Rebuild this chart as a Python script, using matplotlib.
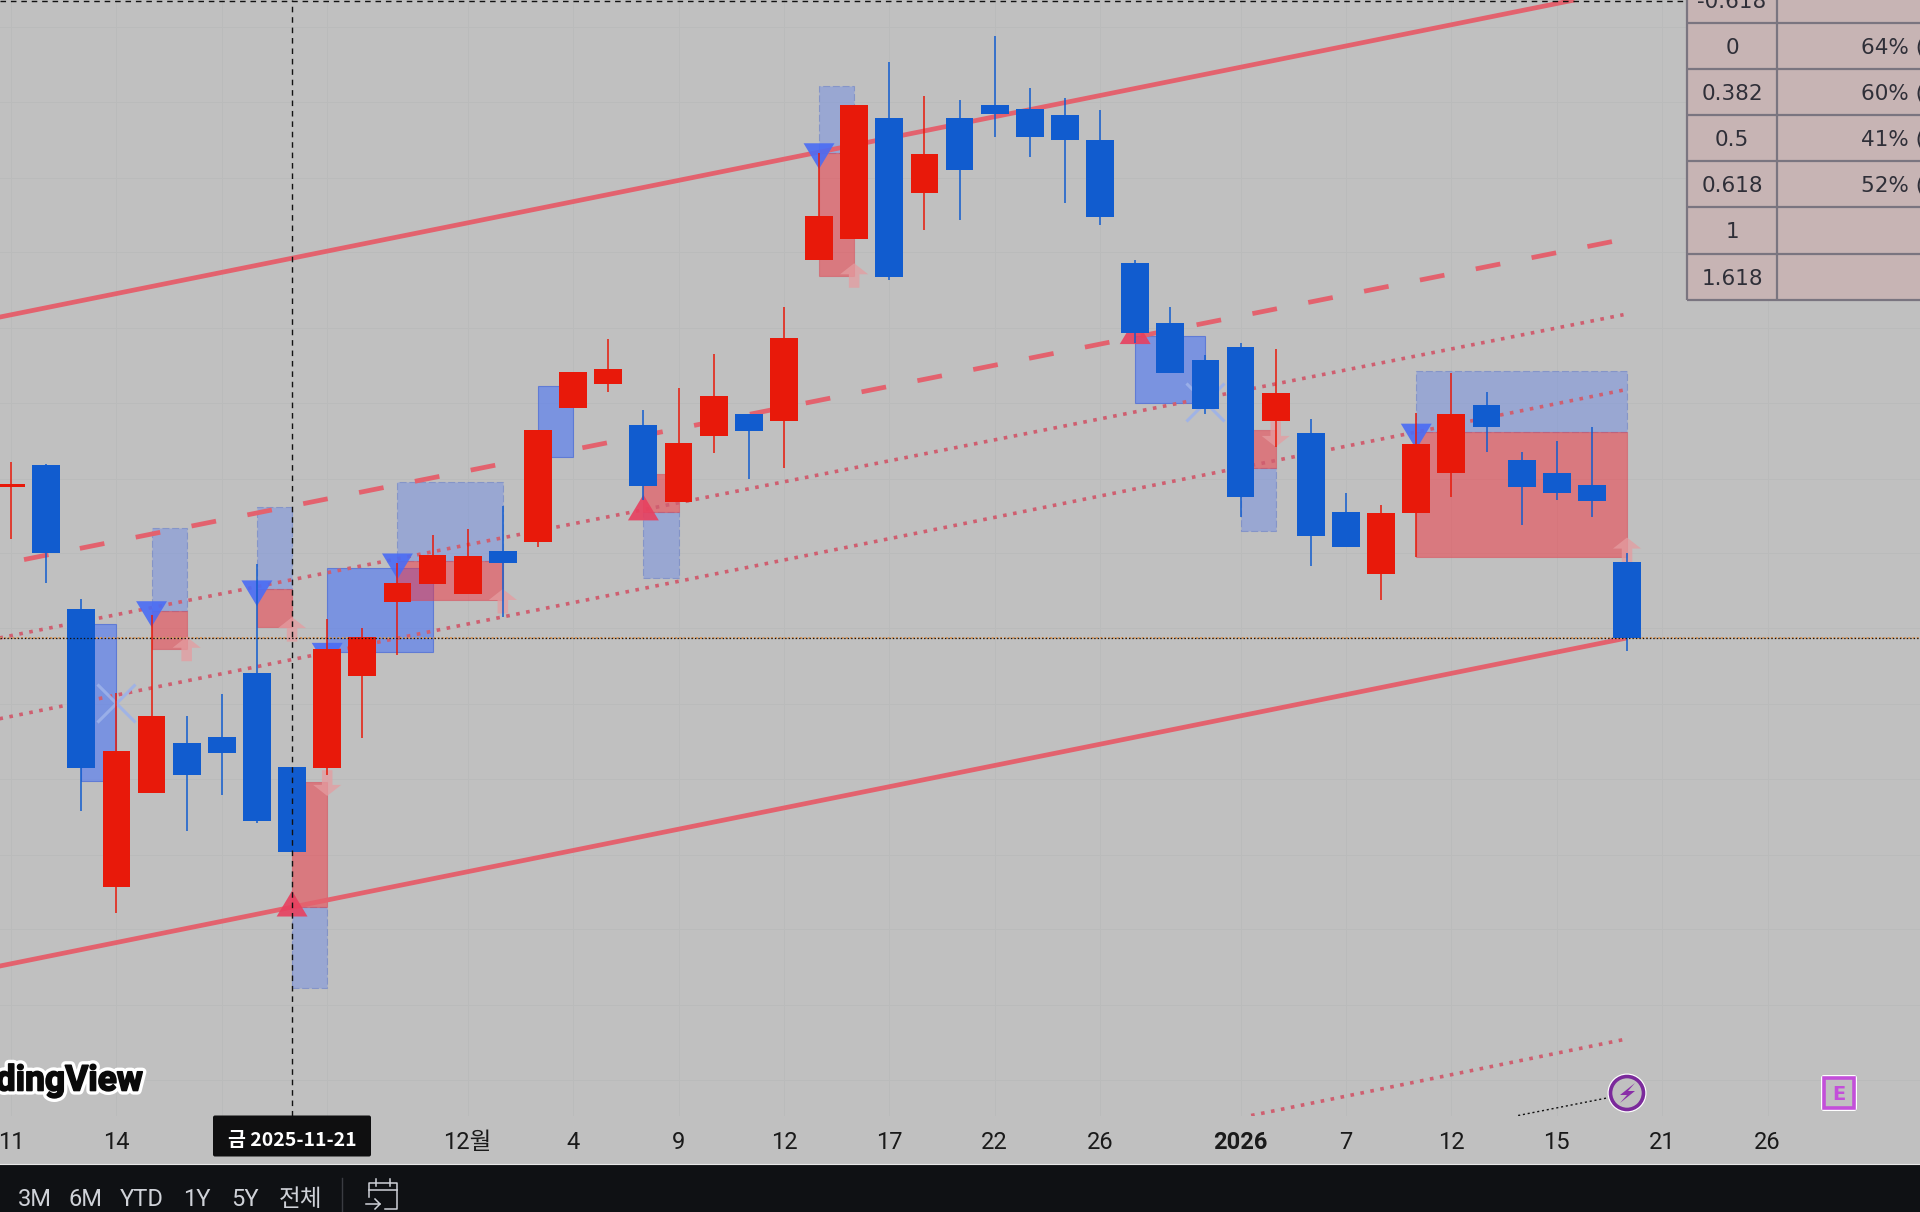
import matplotlib
matplotlib.use("Agg")
import matplotlib.pyplot as plt
from matplotlib import font_manager as fm
from matplotlib.patches import Rectangle, FancyBboxPatch, Circle, Polygon
import matplotlib.patheffects as pe

# ---------- data ----------
opens  = [602,620,503,275.4,352,393,398,450.3,374,373,448.3,508,523.2,515.3,550,557,667,686,653,590,644,662,656,788,805,904,842,904,914,911,906,886,785,736,706,716.6,656.2,646.4,582,531.2,581.3,614,669.5,624,613.5,603.7,541.3]
closes = [605,548,372.5,387,415.3,367.2,385,329.6,304.5,470,480,524,546.5,546,540,649,696,699,603,638,677,648,724,824,914,774,874,861,907,888,886,823,728,695,666,594.4,679,562.3,553,581,637.7,662.2,651,602,597.4,591,478.7]
highs  = [623,621,511,434,498,415,433,539,374,494.4,487,540,563.4,568,587,649,696,723,665,683,711,662,749,875,914,949,922,918,971,928,920,910,788,749,710,720,715,658,597.4,587.6,662.5,695,680,631,640,651.6,548]
lows   = [560,524,337.5,254,352,321.5,351,328,304.5,367,397,465,523,515,496.4,553,667,680,592,590,630,609,618,788,805,771,812,820,888,872,834,816,720,695,662,578,635,538,553,510,545.4,594.4,631,571,592,578,468]

tick_pos    = [0,3,6,9,13,16,19,22,25,28,31,35,38,41,44,47,50]
tick_labels = ['11','14','','','12월','4','9','12','17','22','26','2026','7','12','15','21','26']
grid_prices = [978,917,855,794,732,671,609,548,487,425,364,302,241,179,118]

# zones: left bar, right bar, top price, bottom price
red_left,  red_right  = [4,7,8,11,18,23,35,40],[5,8,9,14,19,24,36,46]
red_top               = [501.3,519,361,541.6,613,875,649,647]
red_bot               = [470,488,259.4,510.4,582,775,618,545]
pale_left, pale_right = [4,7,8,11,18,23,35,40],[5,8,9,14,19,24,36,46]
pale_top              = [568.7,586.2,259.4,606.3,582,930,618,697]
pale_bot              = [501.3,519,193,542,528,875,566,647]
mid_left,  mid_right  = [2,9,15,32],[3,12,16,34]
mid_top               = [490,536.3,685,726]
mid_bot               = [362,467.2,627,671]

down_tri_x = [4,7,9,11,23,40]
down_tri_y = [509,526,475,548,883,654]
up_tri_x   = [8,18,32]
up_tri_y   = [251.5,575,719]
up_arrow_x = [5,8,14,24,46]
up_arrow_y = [460,476,499,765,541]
dn_arrow_x = [9,36]
dn_arrow_y = [371,656]

chan_up_x,  chan_up_y  = [-0.33,44.5],[741,1000]
chan_lo_x,  chan_lo_y  = [-0.33,46],[211,479]
mid_x,      mid_y      = [0.37,45.8],[543,804]
dot1_x,     dot1_y     = [-0.33,45.9],[479,743]
dot2_x,     dot2_y     = [-0.33,46],[413,682]
dot3_x,     dot3_y     = [35.3,45.9],[89,151]
blk_x,      blk_y      = [42.9,45.55],[89,104]
last_price = 479

levels  = ['-0.618','0','0.382','0.5','0.618','1','1.618']
results = ['','64% (-','60% (-','41% (-','52% (-','','']
ranges  = ['3M','6M','YTD','1Y','5Y','전체']
range_x = [35,85,142,197,245,301]

# ---------- style ----------
plt.rcParams['lines.scale_dashes'] = False
BG, RED, BLUE, LINE = '#c0c0c0', '#e8190a', '#115ccf', '#e3626e'
avail = {f.name for f in fm.fontManager.ttflist}
NARROW = ['Liberation Sans Narrow'] if 'Liberation Sans Narrow' in avail else ['Roboto']
TICK = NARROW + ['Noto Sans CJK KR']

fig = plt.figure(figsize=(19.2, 12.12), dpi=100, facecolor=BG)
ax = fig.add_axes([0, 1 - 1115.5/1212, 1, 1115.5/1212], facecolor=BG)
ax.set_xlim(-9/28.69, (1568-9)/28.69)
ax.set_ylim(89, 1000)
for s in ax.spines.values():
    s.set_visible(False)
ax.set_xticks(tick_pos)
ax.set_xticklabels(tick_labels, family=TICK, fontsize=17, color='#1a1a1a')
ax.get_xticklabels()[tick_labels.index('2026')].set_fontweight('bold')
ax.set_yticks(grid_prices)
ax.set_yticklabels([])
ax.tick_params(length=0, pad=11)
ax.grid(True, color='#babbbb', lw=0.7, zorder=0)
ax.set_axisbelow(True)

def zones(l, r, t, b, color, alpha, **kw):
    ax.bar(l, [a-c for a, c in zip(t, b)], bottom=b, width=[y-x for x, y in zip(l, r)],
           align='edge', color=color, alpha=alpha, zorder=2, **kw)

zones(pale_left, pale_right, pale_top, pale_bot, '#7490e4', 0.5, edgecolor='#5f78c8', linestyle=(0, (5, 2)), linewidth=0.8)
zones(mid_left, mid_right, mid_top, mid_bot, '#5d80ee', 0.7, edgecolor='#4668d8', linewidth=0.8)
zones(red_left, red_right, red_top, red_bot, '#f2333f', 0.5, edgecolor='#d84c58', linewidth=0.8)

# trend lines
ax.plot(chan_up_x, chan_up_y, color=LINE, lw=3.4, zorder=3, solid_capstyle='butt')
ax.plot(chan_lo_x, chan_lo_y, color=LINE, lw=3.4, zorder=3, solid_capstyle='butt')
ax.plot(mid_x, mid_y, color=LINE, lw=3.4, zorder=3, linestyle=(0, (18, 23)), dash_capstyle='butt')
for xs, ys in ((dot1_x, dot1_y), (dot2_x, dot2_y), (dot3_x, dot3_y)):
    ax.plot(xs, ys, color='#cf5f70', lw=2.6, zorder=3, linestyle=(0, (2.6, 4.7)), dash_capstyle='butt')
ax.plot(blk_x, blk_y, color='#111111', lw=1.0, zorder=3, linestyle=(0, (1.5, 2)))
ax.axhline(last_price, color='#d99a60', lw=1.4, ls=(0, (1.5, 1.5)), zorder=3)
ax.axhline(last_price, color='#111111', lw=0.9, ls=(0, (1, 1.5)), zorder=7)

# signals
for x, y in zip(down_tri_x, down_tri_y):
    ax.fill([x-0.44, x+0.44, x], [y, y, y-21], color='#4a6cf5', alpha=0.9, linewidth=0, zorder=4)
for x, y in zip(up_tri_x, up_tri_y):
    ax.fill([x-0.44, x+0.44, x], [y, y, y+21], color='#e8405f', alpha=0.9, linewidth=0, zorder=4)
for x, y in zip(up_arrow_x, up_arrow_y):
    ax.arrow(x, y, 0, 20, width=0.3, head_width=0.8, head_length=9, length_includes_head=True,
             color='#e59ca0', alpha=0.75, linewidth=0, zorder=4)
for x, y in zip(dn_arrow_x, dn_arrow_y):
    ax.arrow(x, y, 0, -21, width=0.3, head_width=0.8, head_length=9, length_includes_head=True,
             color='#e59ca0', alpha=0.75, linewidth=0, zorder=4)
ax.scatter([3, 34], [426, 672], marker='x', s=750, color='#9db2ea', alpha=0.9, linewidths=2.2, zorder=4)

# candles
idx = list(range(len(opens)))
cols = [RED if c >= o else BLUE for o, c in zip(opens, closes)]
ax.vlines(idx, lows, highs, colors=cols, lw=1.1, zorder=5)
ax.bar(idx, [abs(c-o) for o, c in zip(opens, closes)],
       bottom=[min(o, c) for o, c in zip(opens, closes)],
       width=0.79, color=cols, linewidth=0, zorder=6)

# crosshair
ax.axvline(8, color='#111111', lw=1.0, ls=(0, (4, 3.5)), zorder=7)
ax.axhline(999, color='#111111', lw=1.0, ls=(0, (4, 3.5)), zorder=7)

# ---------- overlay in pixels: table, widgets, bottom bar ----------
ov = fig.add_axes([0, 0, 1, 1], facecolor='none')
ov.set_xlim(0, 1920)
ov.set_ylim(1212, 0)
ov.axis('off')

rows = [-23.5, 22.7, 69, 115, 161, 207, 253.7, 300]
tx = [1687, 1777, 1925]
ov.add_patch(Rectangle((tx[0], rows[0]), tx[2]-tx[0], rows[-1]-rows[0], fc='#c7b4b4', ec='none', zorder=8))
for y in rows:
    ov.plot(tx[::2], [y, y], color='#7a7580', lw=1.6, zorder=9, solid_capstyle='butt')
for x in tx[:2]:
    ov.plot([x, x], [rows[0], rows[-1]], color='#7a7580', lw=1.6, zorder=9, solid_capstyle='butt')
for k, (lv, res) in enumerate(zip(levels, results)):
    yc = (rows[k] + rows[k+1]) / 2 + 2
    ov.text((tx[0]+tx[1])/2, yc, lv, ha='center', va='center', fontsize=15.5, color='#2f2f38', family='DejaVu Sans', zorder=10)
    if res:
        ov.text(1861, yc, res, ha='left', va='center', fontsize=15.5, color='#2f2f38', family='DejaVu Sans', zorder=10)

# watermark
ov.text(143, 1081, 'TradingView', ha='right', va='center', fontsize=25.5, fontweight='bold', family='Roboto', color='#0a0a0a',
        zorder=8, path_effects=[pe.withStroke(linewidth=6, foreground='white'),
                                pe.withStroke(linewidth=1.2, foreground='#0a0a0a')])

# date label
ov.add_patch(FancyBboxPatch((213, 1115.5), 158, 41, boxstyle='round,pad=0,rounding_size=2', fc='#0f0f10', ec='none', zorder=8))
ov.text(292, 1140, '금 2025-11-21', ha='center', va='center', fontsize=14, fontweight='bold', color='white',
        family=['Noto Sans CJK KR', 'DejaVu Sans'], zorder=9)

# earnings / lightning icons
ov.add_patch(Circle((1627, 1093), 19.5, fc='white', ec='none', zorder=8))
ov.add_patch(Circle((1627, 1093), 16.5, fc=BG, ec='#7b2a9b', lw=2.6, zorder=9))
ov.add_patch(Polygon([(1635, 1083), (1620, 1095), (1627, 1095), (1620, 1103), (1635, 1091), (1628, 1091)],
                     fc='#8a2fa8', ec='none', zorder=10))
ov.add_patch(FancyBboxPatch((1821, 1075), 36, 36, boxstyle='round,pad=0,rounding_size=3', fc='white', ec='none', zorder=8))
ov.add_patch(Rectangle((1824, 1078), 30, 30, fc=BG, ec='#c34fd9', lw=2.6, zorder=9))
ov.text(1839, 1094, 'E', ha='center', va='center', fontsize=14, fontweight='bold', color='#c34fd9', zorder=10)

# bottom bar
ov.add_patch(Rectangle((0, 1164.5), 1920, 50, fc='#0f1114', ec='none', zorder=8))
ov.plot([0, 1920], [1164, 1164], color='#e8e8e8', lw=0.8, zorder=9)
for x, t in zip(range_x, ranges):
    ov.text(x, 1199, t, ha='center', va='center', fontsize=17, color='#cfd2d8', family=TICK, zorder=9)
ov.plot([342, 342], [1178, 1212], color='#3a3c42', lw=1, zorder=9)
cal = '#cfd2d8'
ov.plot([369, 369, 397, 397, 385], [1197, 1183, 1183, 1209, 1209], color=cal, lw=1.1, zorder=9)
ov.plot([369, 397], [1190, 1190], color=cal, lw=1.1, zorder=9)
ov.plot([376, 376], [1179, 1186], color=cal, lw=1.1, zorder=9)
ov.plot([390, 390], [1179, 1186], color=cal, lw=1.1, zorder=9)
ov.plot([366, 380], [1204, 1204], color=cal, lw=1.1, zorder=9)
ov.plot([375, 380, 375], [1199, 1204, 1209], color=cal, lw=1.1, zorder=9)

fig.savefig('out.png', dpi=100, facecolor=BG)
